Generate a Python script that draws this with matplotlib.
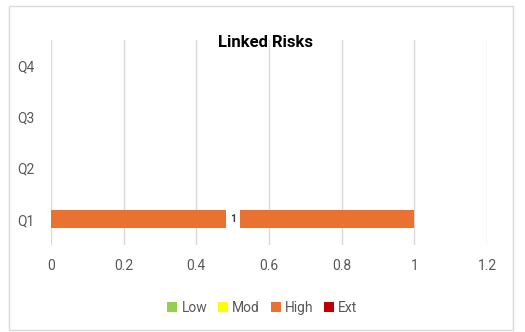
import matplotlib
matplotlib.use('Agg')
import matplotlib.pyplot as plt
from matplotlib.patches import Rectangle

# data
quarters = ['Q1', 'Q2', 'Q3', 'Q4']
series_names = ['Low', 'Mod', 'High', 'Ext']
low = [0, 0, 0, 0]
mod = [0, 0, 0, 0]
high = [1, 0, 0, 0]
ext = [0, 0, 0, 0]
series_colors = ['#92D050', '#FFFF00', '#E97132', '#C00000']
x_ticks = [0, 0.2, 0.4, 0.6, 0.8, 1, 1.2]
x_tick_labels = ['0', '0.2', '0.4', '0.6', '0.8', '1', '1.2']

plt.rcParams['font.family'] = ['Roboto', 'DejaVu Sans']

fig = plt.figure(figsize=(5.25, 3.32), dpi=100)
fig.patches.append(Rectangle((9 / 525, 2 / 332), 504 / 525, 324 / 332,
                             transform=fig.transFigure, fill=False,
                             edgecolor='#D9D9D9', linewidth=1))

ax = fig.add_axes([51 / 525, 87 / 332, 436 / 525, 205 / 332])

ypos = range(len(quarters))
left = [0] * len(quarters)
for name, vals, col in zip(series_names, [low, mod, high, ext], series_colors):
    bars = ax.barh(ypos, vals, left=left, height=0.35, color=col, label=name, zorder=3)
    for b, v in zip(bars, vals):
        if v:
            ax.text(b.get_x() + b.get_width() / 2, b.get_y() + b.get_height() / 2,
                    f'{v:g}', ha='center', va='center', fontsize=7.5, fontweight='bold',
                    color='#404040', zorder=4,
                    bbox=dict(facecolor='white', edgecolor='none', pad=3))
    left = [l + v for l, v in zip(left, vals)]

ax.set_xlim(0, 1.2)
ax.set_ylim(-0.5, 3.5)
ax.set_xticks(x_ticks)
ax.set_xticklabels(x_tick_labels)
ax.set_yticks(list(ypos))
ax.set_yticklabels(quarters)
ax.grid(axis='x', color='#D9D9D9', linewidth=1, zorder=0)
for s in ax.spines.values():
    s.set_visible(False)
ax.tick_params(axis='both', length=0, labelsize=10, labelcolor='#595959')
ax.tick_params(axis='x', pad=10)
ax.tick_params(axis='y', pad=12)

fig.text(0.505, 0.871, 'Linked Risks', ha='center', va='center',
         fontsize=12, fontweight='bold', color='black')

fig.legend(loc='center', bbox_to_anchor=(0.5, 0.072), ncol=4, frameon=False,
           fontsize=10, handlelength=0.7, handleheight=0.7, handletextpad=0.3,
           columnspacing=0.8, labelcolor='#595959')

plt.savefig('out.png', dpi=100, facecolor='white')
plt.close()
